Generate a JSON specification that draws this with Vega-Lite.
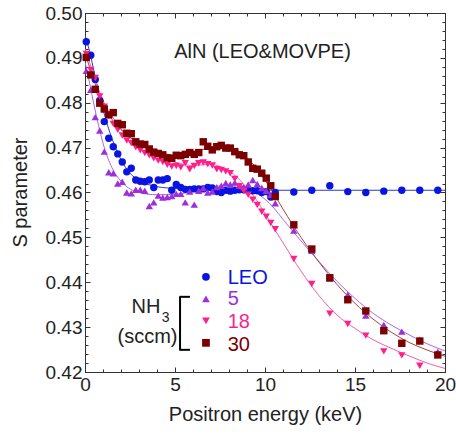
{
  "$schema": "https://vega.github.io/schema/vega-lite/v6.json",
  "width": 360,
  "height": 359,
  "autosize": {"type": "none"},
  "padding": {"left": 85, "top": 13, "right": 11, "bottom": 64},
  "background": "white",
  "config": {
    "view": {"stroke": "#333", "strokeWidth": 1},
    "font": "Liberation Sans",
    "axis": {
      "domain": false, "grid": false, "tickColor": "#333", "tickWidth": 1,
      "labelColor": "#222", "labelFont": "Liberation Sans", "labelFontSize": 19,
      "labelFlush": false, "labelOverlap": false,
      "titleFont": "Liberation Sans", "titleFontSize": 20, "titleFontWeight": "normal", "titleColor": "#222"
    }
  },
  "resolve": {"axis": {"x": "independent", "y": "independent"}},
  "datasets": {
    "pts": [
      {"g":"LEO","e":0.07,"s":0.4936},{"g":"LEO","e":0.32,"s":0.4906},{"g":"LEO","e":0.57,"s":0.4852},{"g":"LEO","e":0.82,"s":0.4805},
      {"g":"LEO","e":1.07,"s":0.4758},{"g":"LEO","e":1.32,"s":0.4721},{"g":"LEO","e":1.57,"s":0.4702},{"g":"LEO","e":1.82,"s":0.4686},
      {"g":"LEO","e":2.07,"s":0.4668},{"g":"LEO","e":2.32,"s":0.4646},{"g":"LEO","e":2.57,"s":0.4654},{"g":"LEO","e":2.82,"s":0.4628},
      {"g":"LEO","e":3.07,"s":0.4625},{"g":"LEO","e":3.32,"s":0.4624},{"g":"LEO","e":3.57,"s":0.4628},{"g":"LEO","e":3.82,"s":0.4611},
      {"g":"LEO","e":4.07,"s":0.4628},{"g":"LEO","e":4.32,"s":0.4628},{"g":"LEO","e":4.57,"s":0.4631},{"g":"LEO","e":4.82,"s":0.4605},
      {"g":"LEO","e":5.07,"s":0.4618},{"g":"LEO","e":5.32,"s":0.4611},{"g":"LEO","e":5.57,"s":0.4607},{"g":"LEO","e":5.82,"s":0.4607},
      {"g":"LEO","e":6.07,"s":0.4608},{"g":"LEO","e":6.32,"s":0.4608},{"g":"LEO","e":6.57,"s":0.4608},{"g":"LEO","e":6.82,"s":0.4611},
      {"g":"LEO","e":7.07,"s":0.4610},{"g":"LEO","e":7.32,"s":0.4602},{"g":"LEO","e":7.57,"s":0.4600},{"g":"LEO","e":7.82,"s":0.4605},
      {"g":"LEO","e":8.07,"s":0.4603},{"g":"LEO","e":8.32,"s":0.4605},{"g":"LEO","e":8.57,"s":0.4606},{"g":"LEO","e":8.82,"s":0.4606},
      {"g":"LEO","e":9.07,"s":0.4604},{"g":"LEO","e":9.32,"s":0.4604},{"g":"LEO","e":9.57,"s":0.4604},{"g":"LEO","e":9.82,"s":0.4600},
      {"g":"LEO","e":10.07,"s":0.4602},{"g":"LEO","e":10.32,"s":0.4590},{"g":"LEO","e":10.57,"s":0.4600},
      {"g":"LEO","e":11.6,"s":0.4601},{"g":"LEO","e":12.6,"s":0.4605},{"g":"LEO","e":13.6,"s":0.4615},{"g":"LEO","e":14.6,"s":0.4602},
      {"g":"LEO","e":15.6,"s":0.4600},{"g":"LEO","e":16.6,"s":0.4603},{"g":"LEO","e":17.6,"s":0.4605},{"g":"LEO","e":18.6,"s":0.4605},{"g":"LEO","e":19.6,"s":0.4605},

      {"g":"5","e":0.07,"s":0.4871},{"g":"5","e":0.32,"s":0.4829},{"g":"5","e":0.57,"s":0.4768},{"g":"5","e":0.82,"s":0.4738},
      {"g":"5","e":1.07,"s":0.4691},{"g":"5","e":1.32,"s":0.4645},{"g":"5","e":1.57,"s":0.4643},{"g":"5","e":1.82,"s":0.4620},
      {"g":"5","e":2.07,"s":0.4624},{"g":"5","e":2.32,"s":0.4600},{"g":"5","e":2.57,"s":0.4598},{"g":"5","e":2.82,"s":0.4606},
      {"g":"5","e":3.07,"s":0.4606},{"g":"5","e":3.32,"s":0.4604},{"g":"5","e":3.57,"s":0.4570},{"g":"5","e":3.82,"s":0.4578},
      {"g":"5","e":4.07,"s":0.4593},{"g":"5","e":4.32,"s":0.4589},{"g":"5","e":4.57,"s":0.4590},{"g":"5","e":4.82,"s":0.4592},
      {"g":"5","e":5.07,"s":0.4597},{"g":"5","e":5.32,"s":0.4597},{"g":"5","e":5.57,"s":0.4578},{"g":"5","e":5.82,"s":0.4602},
      {"g":"5","e":6.07,"s":0.4573},{"g":"5","e":6.32,"s":0.4604},{"g":"5","e":6.57,"s":0.4610},{"g":"5","e":6.82,"s":0.4600},
      {"g":"5","e":7.07,"s":0.4602},{"g":"5","e":7.32,"s":0.4612},{"g":"5","e":7.57,"s":0.4615},{"g":"5","e":7.82,"s":0.4621},
      {"g":"5","e":8.07,"s":0.4618},{"g":"5","e":8.32,"s":0.4622},{"g":"5","e":8.57,"s":0.4615},{"g":"5","e":8.82,"s":0.4612},
      {"g":"5","e":9.07,"s":0.4618},{"g":"5","e":9.32,"s":0.4628},{"g":"5","e":9.57,"s":0.4619},{"g":"5","e":9.82,"s":0.4610},
      {"g":"5","e":10.07,"s":0.4604},{"g":"5","e":10.32,"s":0.4595},{"g":"5","e":10.57,"s":0.4576},
      {"g":"5","e":11.6,"s":0.4515},{"g":"5","e":12.6,"s":0.4470},{"g":"5","e":13.6,"s":0.4408},{"g":"5","e":14.6,"s":0.4372},
      {"g":"5","e":15.6,"s":0.4326},{"g":"5","e":16.6,"s":0.4305},{"g":"5","e":17.6,"s":0.4290},{"g":"5","e":18.6,"s":0.4272},{"g":"5","e":19.6,"s":0.4245},

      {"g":"18","e":0.07,"s":0.4909},{"g":"18","e":0.32,"s":0.4873},{"g":"18","e":0.57,"s":0.4855},{"g":"18","e":0.82,"s":0.4814},
      {"g":"18","e":1.07,"s":0.4791},{"g":"18","e":1.32,"s":0.4771},{"g":"18","e":1.57,"s":0.4753},{"g":"18","e":1.82,"s":0.4740},
      {"g":"18","e":2.07,"s":0.4727},{"g":"18","e":2.32,"s":0.4716},{"g":"18","e":2.57,"s":0.4710},{"g":"18","e":2.82,"s":0.4701},
      {"g":"18","e":3.07,"s":0.4694},{"g":"18","e":3.32,"s":0.4688},{"g":"18","e":3.57,"s":0.4683},{"g":"18","e":3.82,"s":0.4676},
      {"g":"18","e":4.07,"s":0.4671},{"g":"18","e":4.32,"s":0.4668},{"g":"18","e":4.57,"s":0.4662},{"g":"18","e":4.82,"s":0.4658},
      {"g":"18","e":5.07,"s":0.4659},{"g":"18","e":5.32,"s":0.4656},{"g":"18","e":5.57,"s":0.4665},{"g":"18","e":5.82,"s":0.4652},
      {"g":"18","e":6.07,"s":0.4659},{"g":"18","e":6.32,"s":0.4665},{"g":"18","e":6.57,"s":0.4667},{"g":"18","e":6.82,"s":0.4663},
      {"g":"18","e":7.07,"s":0.4660},{"g":"18","e":7.32,"s":0.4652},{"g":"18","e":7.57,"s":0.4650},{"g":"18","e":7.82,"s":0.4647},
      {"g":"18","e":8.07,"s":0.4643},{"g":"18","e":8.32,"s":0.4630},{"g":"18","e":8.57,"s":0.4614},{"g":"18","e":8.82,"s":0.4604},
      {"g":"18","e":9.07,"s":0.4595},{"g":"18","e":9.32,"s":0.4584},{"g":"18","e":9.57,"s":0.4572},{"g":"18","e":9.82,"s":0.4557},
      {"g":"18","e":10.07,"s":0.4546},{"g":"18","e":10.32,"s":0.4532},{"g":"18","e":10.57,"s":0.4518},
      {"g":"18","e":11.6,"s":0.4452},{"g":"18","e":12.6,"s":0.4396},{"g":"18","e":13.6,"s":0.4330},{"g":"18","e":14.6,"s":0.4307},
      {"g":"18","e":15.6,"s":0.4281},{"g":"18","e":16.6,"s":0.4246},{"g":"18","e":17.6,"s":0.4237},{"g":"18","e":18.6,"s":0.4214},

      {"g":"30","e":0.07,"s":0.4901},{"g":"30","e":0.32,"s":0.4862},{"g":"30","e":0.57,"s":0.4830},{"g":"30","e":0.82,"s":0.4799},
      {"g":"30","e":1.07,"s":0.4786},{"g":"30","e":1.32,"s":0.4773},{"g":"30","e":1.57,"s":0.4778},{"g":"30","e":1.82,"s":0.4754},
      {"g":"30","e":2.07,"s":0.4751},{"g":"30","e":2.32,"s":0.4732},{"g":"30","e":2.57,"s":0.4731},{"g":"30","e":2.82,"s":0.4713},
      {"g":"30","e":3.07,"s":0.4708},{"g":"30","e":3.32,"s":0.4707},{"g":"30","e":3.57,"s":0.4697},{"g":"30","e":3.82,"s":0.4690},
      {"g":"30","e":4.07,"s":0.4687},{"g":"30","e":4.32,"s":0.4684},{"g":"30","e":4.57,"s":0.4677},{"g":"30","e":4.82,"s":0.4676},
      {"g":"30","e":5.07,"s":0.4683},{"g":"30","e":5.32,"s":0.4682},{"g":"30","e":5.57,"s":0.4685},{"g":"30","e":5.82,"s":0.4689},
      {"g":"30","e":6.07,"s":0.4685},{"g":"30","e":6.32,"s":0.4689},{"g":"30","e":6.57,"s":0.4713},{"g":"30","e":6.82,"s":0.4703},
      {"g":"30","e":7.07,"s":0.4695},{"g":"30","e":7.32,"s":0.4702},{"g":"30","e":7.57,"s":0.4705},{"g":"30","e":7.82,"s":0.4699},
      {"g":"30","e":8.07,"s":0.4699},{"g":"30","e":8.32,"s":0.4691},{"g":"30","e":8.57,"s":0.4684},{"g":"30","e":8.82,"s":0.4682},
      {"g":"30","e":9.07,"s":0.4668},{"g":"30","e":9.32,"s":0.4654},{"g":"30","e":9.57,"s":0.4652},{"g":"30","e":9.82,"s":0.4643},
      {"g":"30","e":10.07,"s":0.4632},{"g":"30","e":10.32,"s":0.4615},{"g":"30","e":10.57,"s":0.4591},
      {"g":"30","e":11.6,"s":0.4528},{"g":"30","e":12.6,"s":0.4474},{"g":"30","e":13.6,"s":0.4410},{"g":"30","e":14.6,"s":0.4361},
      {"g":"30","e":15.6,"s":0.4336},{"g":"30","e":16.6,"s":0.4292},{"g":"30","e":17.6,"s":0.4264},{"g":"30","e":18.6,"s":0.4269},{"g":"30","e":19.6,"s":0.4238}
    ],
    "fit": [
      {"g":"LEO","e":0,"s":0.4950},{"g":"LEO","e":0.25,"s":0.4915},{"g":"LEO","e":0.5,"s":0.4870},{"g":"LEO","e":0.75,"s":0.4825},
      {"g":"LEO","e":1,"s":0.4785},{"g":"LEO","e":1.5,"s":0.4720},{"g":"LEO","e":2,"s":0.4673},{"g":"LEO","e":2.5,"s":0.4643},
      {"g":"LEO","e":3,"s":0.4627},{"g":"LEO","e":3.5,"s":0.4618},{"g":"LEO","e":4,"s":0.4613},{"g":"LEO","e":5,"s":0.4609},
      {"g":"LEO","e":6,"s":0.4607},{"g":"LEO","e":8,"s":0.4606},{"g":"LEO","e":10,"s":0.4605},{"g":"LEO","e":20,"s":0.4605},

      {"g":"5","e":0,"s":0.4890},{"g":"5","e":0.25,"s":0.4845},{"g":"5","e":0.5,"s":0.4795},{"g":"5","e":0.75,"s":0.4750},
      {"g":"5","e":1,"s":0.4710},{"g":"5","e":1.5,"s":0.4655},{"g":"5","e":2,"s":0.4625},{"g":"5","e":2.5,"s":0.4608},
      {"g":"5","e":3,"s":0.4600},{"g":"5","e":4,"s":0.4595},{"g":"5","e":5,"s":0.4596},{"g":"5","e":6,"s":0.4602},
      {"g":"5","e":7,"s":0.4611},{"g":"5","e":8,"s":0.4617},{"g":"5","e":8.5,"s":0.4617},{"g":"5","e":9,"s":0.4612},
      {"g":"5","e":9.5,"s":0.4600},{"g":"5","e":10,"s":0.4585},{"g":"5","e":10.5,"s":0.4565},{"g":"5","e":11,"s":0.4540},
      {"g":"5","e":12,"s":0.4492},{"g":"5","e":13,"s":0.4446},{"g":"5","e":14,"s":0.4402},{"g":"5","e":15,"s":0.4364},
      {"g":"5","e":16,"s":0.4331},{"g":"5","e":17,"s":0.4305},{"g":"5","e":18,"s":0.4283},{"g":"5","e":19,"s":0.4263},{"g":"5","e":20,"s":0.4247},

      {"g":"18","e":0,"s":0.4920},{"g":"18","e":0.25,"s":0.4890},{"g":"18","e":0.5,"s":0.4860},{"g":"18","e":1,"s":0.4805},
      {"g":"18","e":1.5,"s":0.4770},{"g":"18","e":2,"s":0.4742},{"g":"18","e":3,"s":0.4708},{"g":"18","e":4,"s":0.4685},
      {"g":"18","e":5,"s":0.4668},{"g":"18","e":6,"s":0.4660},{"g":"18","e":7,"s":0.4663},{"g":"18","e":7.5,"s":0.4658},
      {"g":"18","e":8,"s":0.4648},{"g":"18","e":8.5,"s":0.4632},{"g":"18","e":9,"s":0.4610},{"g":"18","e":9.5,"s":0.4585},
      {"g":"18","e":10,"s":0.4553},{"g":"18","e":10.5,"s":0.4520},{"g":"18","e":11,"s":0.4488},{"g":"18","e":12,"s":0.4425},
      {"g":"18","e":13,"s":0.4370},{"g":"18","e":14,"s":0.4327},{"g":"18","e":15,"s":0.4297},{"g":"18","e":16,"s":0.4272},
      {"g":"18","e":17,"s":0.4253},{"g":"18","e":18,"s":0.4236},{"g":"18","e":19,"s":0.4220},{"g":"18","e":20,"s":0.4208},

      {"g":"30","e":0,"s":0.4910},{"g":"30","e":0.25,"s":0.4880},{"g":"30","e":0.5,"s":0.4850},{"g":"30","e":1,"s":0.4795},
      {"g":"30","e":1.5,"s":0.4763},{"g":"30","e":2,"s":0.4740},{"g":"30","e":3,"s":0.4710},{"g":"30","e":4,"s":0.4692},
      {"g":"30","e":5,"s":0.4683},{"g":"30","e":6,"s":0.4688},{"g":"30","e":7,"s":0.4700},{"g":"30","e":8,"s":0.4700},
      {"g":"30","e":8.5,"s":0.4693},{"g":"30","e":9,"s":0.4678},{"g":"30","e":9.5,"s":0.4655},{"g":"30","e":10,"s":0.4627},
      {"g":"30","e":10.5,"s":0.4597},{"g":"30","e":11,"s":0.4563},{"g":"30","e":12,"s":0.4500},{"g":"30","e":13,"s":0.4445},
      {"g":"30","e":14,"s":0.4395},{"g":"30","e":15,"s":0.4353},{"g":"30","e":16,"s":0.4318},{"g":"30","e":17,"s":0.4289},
      {"g":"30","e":18,"s":0.4266},{"g":"30","e":19,"s":0.4249},{"g":"30","e":20,"s":0.4235}
    ]
  },
  "layer": [
    {
      "data": {"name": "fit"},
      "mark": {"type": "line", "interpolate": "monotone", "strokeWidth": 1, "clip": true},
      "encoding": {
        "x": {"field": "e", "type": "quantitative", "scale": {"domain": [0, 20], "nice": false, "zero": false},
              "axis": {"orient": "bottom", "values": [0,1,2,3,4,5,6,7,8,9,10,11,12,13,14,15,16,17,18,19,20], "tickSize": -3, "labels": false, "title": null}},
        "y": {"field": "s", "type": "quantitative", "scale": {"domain": [0.42, 0.5], "nice": false, "zero": false},
              "axis": {"orient": "left", "values": [0.42,0.422,0.424,0.426,0.428,0.43,0.432,0.434,0.436,0.438,0.44,0.442,0.444,0.446,0.448,0.45,0.452,0.454,0.456,0.458,0.46,0.462,0.464,0.466,0.468,0.47,0.472,0.474,0.476,0.478,0.48,0.482,0.484,0.486,0.488,0.49,0.492,0.494,0.496,0.498,0.5], "tickSize": -3, "labels": false, "title": null}},
        "stroke": {"field": "g", "type": "nominal", "scale": {"domain": ["LEO","5","18","30"], "range": ["#2a3ad0","#b066e6","#ff5aa8","#a4443c"]}, "legend": null}
      }
    },
    {
      "data": {"name": "pts"},
      "mark": {"type": "point", "filled": true, "opacity": 1, "size": 55},
      "encoding": {
        "x": {"field": "e", "type": "quantitative", "scale": {"domain": [0, 20], "nice": false, "zero": false},
              "axis": {"orient": "bottom", "values": [0,5,10,15,20], "tickSize": -5, "labelPadding": 8, "title": "Positron energy (keV)", "titlePadding": 10}},
        "y": {"field": "s", "type": "quantitative", "scale": {"domain": [0.42, 0.5], "nice": false, "zero": false},
              "axis": {"orient": "left", "values": [0.42,0.43,0.44,0.45,0.46,0.47,0.48,0.49,0.5], "format": ".2f", "tickSize": -5, "labelPadding": 8, "title": "S parameter", "titleX": -65, "titleY": 179, "titleAngle": 270, "titleAlign": "center", "titleBaseline": "middle"}},
        "color": {"field": "g", "type": "nominal", "scale": {"domain": ["LEO","5","18","30"], "range": ["#0a14e0","#9b30d9","#ff1f8a","#7d0000"]}, "legend": null},
        "shape": {"field": "g", "type": "nominal", "scale": {"domain": ["LEO","5","18","30"], "range": ["circle","triangle-up","triangle-down","square"]}, "legend": null}
      }
    },
    {
      "data": {"values": [{}]},
      "mark": {"type": "text", "text": "AlN (LEO&MOVPE)", "fontSize": 20, "font": "Liberation Sans", "align": "center", "baseline": "middle", "color": "#222"},
      "encoding": {
        "x": {"datum": 9.86, "type": "quantitative", "scale": {"domain": [0, 20], "nice": false, "zero": false},
              "axis": {"orient": "top", "values": [0,5,10,15,20], "tickSize": -5, "labels": false, "title": null}},
        "y": {"datum": 0.4913, "type": "quantitative", "scale": {"domain": [0.42, 0.5], "nice": false, "zero": false},
              "axis": {"orient": "right", "values": [0.42,0.43,0.44,0.45,0.46,0.47,0.48,0.49,0.5], "tickSize": -5, "labels": false, "title": null}}
      }
    },
    {
      "data": {"values": [{}]},
      "mark": {"type": "text", "text": "NH", "fontSize": 20, "font": "Liberation Sans", "align": "right", "baseline": "middle", "color": "#222"},
      "encoding": {
        "x": {"datum": 4.19, "type": "quantitative", "scale": {"domain": [0, 20], "nice": false, "zero": false},
              "axis": {"orient": "top", "values": [0,1,2,3,4,5,6,7,8,9,10,11,12,13,14,15,16,17,18,19,20], "tickSize": -3, "labels": false, "title": null}},
        "y": {"datum": 0.4345, "type": "quantitative", "scale": {"domain": [0.42, 0.5], "nice": false, "zero": false},
              "axis": {"orient": "right", "values": [0.42,0.422,0.424,0.426,0.428,0.43,0.432,0.434,0.436,0.438,0.44,0.442,0.444,0.446,0.448,0.45,0.452,0.454,0.456,0.458,0.46,0.462,0.464,0.466,0.468,0.47,0.472,0.474,0.476,0.478,0.48,0.482,0.484,0.486,0.488,0.49,0.492,0.494,0.496,0.498,0.5], "tickSize": -3, "labels": false, "title": null}}
      }
    },
    {
      "data": {"values": [{}]},
      "mark": {"type": "text", "text": "3", "fontSize": 14, "font": "Liberation Sans", "align": "left", "baseline": "middle", "color": "#222"},
      "encoding": {
        "x": {"datum": 4.26, "type": "quantitative", "axis": null},
        "y": {"datum": 0.4321, "type": "quantitative", "axis": null}
      }
    },
    {
      "data": {"values": [{}]},
      "mark": {"type": "text", "text": "(sccm)", "fontSize": 20, "font": "Liberation Sans", "align": "center", "baseline": "middle", "color": "#222"},
      "encoding": {
        "x": {"datum": 3.47, "type": "quantitative", "axis": null},
        "y": {"datum": 0.4278, "type": "quantitative", "axis": null}
      }
    },
    {
      "data": {"values": [{}]},
      "mark": {"type": "rule", "color": "#000", "strokeWidth": 2},
      "encoding": {
        "x": {"datum": 5.28, "type": "quantitative", "axis": null},
        "y": {"datum": 0.43675, "type": "quantitative", "axis": null},
        "y2": {"datum": 0.42494}
      }
    },
    {
      "data": {"values": [{}]},
      "mark": {"type": "rule", "color": "#000", "strokeWidth": 2},
      "encoding": {
        "x": {"datum": 5.24, "type": "quantitative", "axis": null},
        "x2": {"datum": 5.83},
        "y": {"datum": 0.43675, "type": "quantitative", "axis": null}
      }
    },
    {
      "data": {"values": [{}]},
      "mark": {"type": "rule", "color": "#000", "strokeWidth": 2},
      "encoding": {
        "x": {"datum": 5.24, "type": "quantitative", "axis": null},
        "x2": {"datum": 5.83},
        "y": {"datum": 0.42494, "type": "quantitative", "axis": null}
      }
    },
    {
      "data": {"values": [{}]},
      "mark": {"type": "point", "filled": true, "opacity": 1, "size": 60},
      "encoding": {
        "x": {"datum": 6.72, "type": "quantitative", "axis": null},
        "y": {"datum": 0.4412, "type": "quantitative", "axis": null},
        "color": {"datum": "LEO", "type": "nominal", "legend": null},
        "shape": {"datum": "LEO", "type": "nominal", "legend": null}
      }
    },
    {
      "data": {"values": [{}]},
      "mark": {"type": "point", "filled": true, "opacity": 1, "size": 60},
      "encoding": {
        "x": {"datum": 6.72, "type": "quantitative", "axis": null},
        "y": {"datum": 0.4363, "type": "quantitative", "axis": null},
        "color": {"datum": "5", "type": "nominal", "legend": null},
        "shape": {"datum": "5", "type": "nominal", "legend": null}
      }
    },
    {
      "data": {"values": [{}]},
      "mark": {"type": "point", "filled": true, "opacity": 1, "size": 60},
      "encoding": {
        "x": {"datum": 6.72, "type": "quantitative", "axis": null},
        "y": {"datum": 0.4314, "type": "quantitative", "axis": null},
        "color": {"datum": "18", "type": "nominal", "legend": null},
        "shape": {"datum": "18", "type": "nominal", "legend": null}
      }
    },
    {
      "data": {"values": [{}]},
      "mark": {"type": "point", "filled": true, "opacity": 1, "size": 60},
      "encoding": {
        "x": {"datum": 6.72, "type": "quantitative", "axis": null},
        "y": {"datum": 0.4265, "type": "quantitative", "axis": null},
        "color": {"datum": "30", "type": "nominal", "legend": null},
        "shape": {"datum": "30", "type": "nominal", "legend": null}
      }
    },
    {
      "data": {"values": [{}]},
      "mark": {"type": "text", "text": "LEO", "fontSize": 20, "font": "Liberation Sans", "align": "left", "baseline": "middle"},
      "encoding": {
        "x": {"datum": 7.93, "type": "quantitative", "axis": null},
        "y": {"datum": 0.4410, "type": "quantitative", "axis": null},
        "color": {"datum": "LEO", "type": "nominal", "legend": null}
      }
    },
    {
      "data": {"values": [{}]},
      "mark": {"type": "text", "text": "5", "fontSize": 20, "font": "Liberation Sans", "align": "left", "baseline": "middle"},
      "encoding": {
        "x": {"datum": 7.93, "type": "quantitative", "axis": null},
        "y": {"datum": 0.4362, "type": "quantitative", "axis": null},
        "color": {"datum": "5", "type": "nominal", "legend": null}
      }
    },
    {
      "data": {"values": [{}]},
      "mark": {"type": "text", "text": "18", "fontSize": 20, "font": "Liberation Sans", "align": "left", "baseline": "middle"},
      "encoding": {
        "x": {"datum": 7.93, "type": "quantitative", "axis": null},
        "y": {"datum": 0.4312, "type": "quantitative", "axis": null},
        "color": {"datum": "18", "type": "nominal", "legend": null}
      }
    },
    {
      "data": {"values": [{}]},
      "mark": {"type": "text", "text": "30", "fontSize": 20, "font": "Liberation Sans", "align": "left", "baseline": "middle"},
      "encoding": {
        "x": {"datum": 7.93, "type": "quantitative", "axis": null},
        "y": {"datum": 0.4261, "type": "quantitative", "axis": null},
        "color": {"datum": "30", "type": "nominal", "legend": null}
      }
    }
  ]
}
